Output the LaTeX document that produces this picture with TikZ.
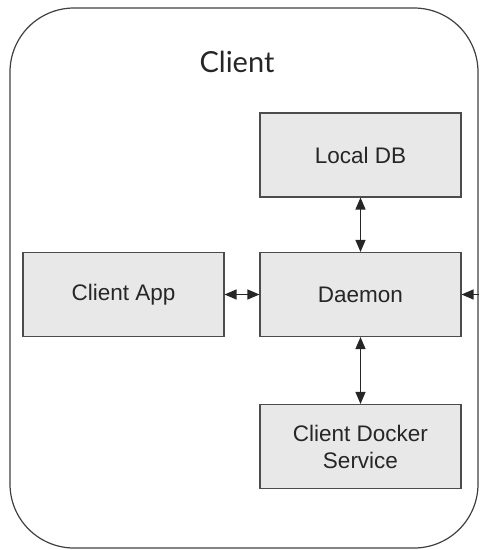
\documentclass[tikz,border=0pt]{standalone}
\usepackage{fontspec}
\setmainfont{Liberation Sans}
\newfontfamily\titlefont{Lato}
\usetikzlibrary{arrows.meta}
\begin{document}
\begin{tikzpicture}[x=1pt,y=-1pt,
  comp/.style={draw=black!70, fill=black!9, line width=1.1pt, minimum width=201pt, minimum height=84pt, inner sep=0pt, align=center, font=\fontsize{22.5}{27}\selectfont, text=black!85},
  link/.style={line width=1.2pt, draw=black!85, {Triangle[length=12pt,width=10pt]}-{Triangle[length=12pt,width=10pt]}},
  onelink/.style={line width=1.2pt, draw=black!85, -{Triangle[length=12pt,width=10pt]}}]
\useasboundingbox (0,0) rectangle (481,550);
\node[draw=black!75, line width=1.2pt, rounded corners=64pt, minimum width=468pt, minimum height=540pt, inner sep=0pt] (client) at (244,278) {};
\node[font=\titlefont\fontsize{29}{34}\selectfont, text=black!85] (title) at (237,62) {Client};
\node[comp] (db) at (360.5,155) {Local DB};
\node[comp] (daemon) at (360.5,294.5) {Daemon};
\node[comp] (app) at (123.5,294.5) {Client App};
\node[comp] (docker) at (360.5,446.5) {Client Docker\\Service};
\draw[link] (db) -- (daemon);
\draw[link] (daemon) -- (docker);
\draw[link] (app) -- (daemon);
\coordinate (ext) at (client.east |- daemon.east);
\draw[onelink] (ext) -- (daemon.east);
\end{tikzpicture}
\end{document}
